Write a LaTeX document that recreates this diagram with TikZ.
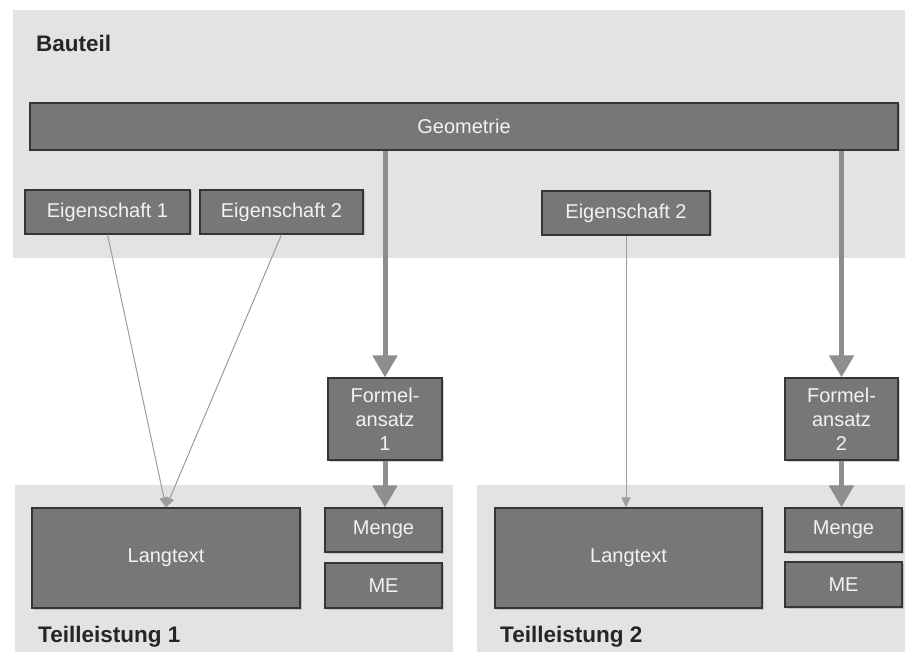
\documentclass[tikz,border=0pt]{standalone}
\usepackage{fontspec}
\setmainfont{Liberation Sans}
\usetikzlibrary{arrows.meta,shadows}
\definecolor{boxfill}{HTML}{777777}
\definecolor{boxline}{HTML}{353535}
\definecolor{bgray}{HTML}{E3E3E3}
\definecolor{arrgray}{HTML}{8E8E8E}
\definecolor{thingray}{HTML}{9C9C9C}
\definecolor{txtwhite}{HTML}{F2F2F2}
\tikzset{
  graybox/.style={rectangle, draw=boxline, line width=1.2pt, fill=boxfill, inner sep=0pt,
    text=txtwhite, font=\fontsize{20}{24}\selectfont, align=center,
    drop shadow={shadow xshift=1.5pt, shadow yshift=-1.5pt, opacity=0.35}},
  region/.style={fill=bgray, draw=none},
  regionlabel/.style={anchor=base west, font=\bfseries\fontsize{22.5}{26}\selectfont, text=black!85, inner sep=0pt},
  bigarrow/.style={draw=arrgray, line width=5pt, -{Triangle[width=24pt,length=22pt]}, arrgray},
  thinarrow/.style={draw=thingray, line width=1pt, -{Triangle[width=9pt,length=10pt]}, thingray},
}
\begin{document}
\begin{tikzpicture}[x=1pt,y=-1pt]
\useasboundingbox (0,0) rectangle (907,652);
% regions
\fill[region] (13,10) rectangle (905,258);
\fill[region] (15,485) rectangle (453,652);
\fill[region] (477,485) rectangle (905,652);
\node[regionlabel] (lbauteil) at (36,52) {Bauteil};
\node[regionlabel] (ltl1) at (38,642) {Teilleistung 1};
\node[regionlabel] (ltl2) at (500,642) {Teilleistung 2};
% boxes
\node[graybox, minimum width=868pt, minimum height=47pt] (geo) at (464,126.5) {Geometrie};
\node[graybox, minimum width=165pt, minimum height=44pt] (e1) at (107.5,212) {Eigenschaft 1};
\node[graybox, minimum width=163pt, minimum height=44pt] (e2) at (281.5,212) {Eigenschaft 2};
\node[graybox, minimum width=168pt, minimum height=44pt] (e3) at (626,213) {Eigenschaft 2};
\node[graybox, minimum width=114pt, minimum height=82pt] (f1) at (385,419) {Formel-\\ansatz\\1};
\node[graybox, minimum width=113pt, minimum height=82pt] (f2) at (841.5,419) {Formel-\\ansatz\\2};
\node[graybox, minimum width=268pt, minimum height=100pt] (lt1) at (166,558) {Langtext};
\node[graybox, minimum width=117pt, minimum height=44pt] (m1) at (383.5,530) {Menge};
\node[graybox, minimum width=117pt, minimum height=45pt] (me1) at (383.5,585.5) {ME};
\node[graybox, minimum width=267pt, minimum height=100pt] (lt2) at (628.5,558) {Langtext};
\node[graybox, minimum width=117pt, minimum height=44pt] (m2) at (843.5,530) {Menge};
\node[graybox, minimum width=117pt, minimum height=45pt] (me2) at (843.5,584.5) {ME};
% connectors
\draw[bigarrow] (geo.south -| f1.north) -- (f1.north);
\draw[bigarrow] (geo.south -| f2.north) -- (f2.north);
\draw[bigarrow] (f1.south) -- (f1.south |- m1.north);
\draw[bigarrow] (f2.south) -- (f2.south |- m2.north);
\draw[thinarrow] (e1.south) -- (lt1.north);
\draw[thinarrow] (e2.south) -- (lt1.north);
\draw[thinarrow] (e3.south) -- (e3.south |- lt2.north);
\end{tikzpicture}
\end{document}
